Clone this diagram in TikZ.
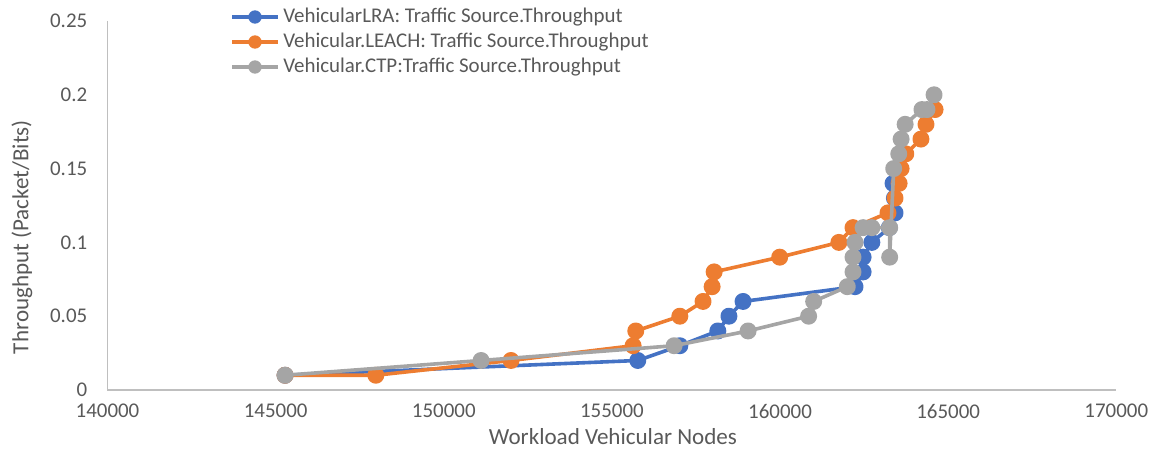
\documentclass[tikz,border=0pt]{standalone}
\usepackage{fontspec}
\setmainfont{Carlito}
\usetikzlibrary{calc}
\definecolor{lra}{HTML}{4472C4}
\definecolor{leach}{HTML}{ED7D31}
\definecolor{ctp}{HTML}{A5A5A5}
\definecolor{txt}{HTML}{595959}
\definecolor{axisline}{HTML}{BFBFBF}
\begin{document}
\begin{tikzpicture}[
  series/.style={line width=2.7pt, line join=round, mark=*, mark size=5pt,
    mark options={line width=0pt}},
  lbl/.style={text=txt, font=\fontsize{15.7}{18}\selectfont, inner sep=0pt},
  ttl/.style={text=txt, font=\fontsize{17.3}{20}\selectfont, inner sep=0pt},
  axisrule/.style={draw=axisline, line width=1pt},
]
\useasboundingbox (0,0) rectangle (863.25pt,337.5pt);

% plotting area: x in thousands above 140000, y in units of 0.01
\begin{scope}[shift={(80.625pt,45pt)}, x=25.22pt, y=11.07pt]
  \coordinate (o) at (0,0);
  \coordinate (ytop) at (0,25);
  \coordinate (xend) at (30,0);
  \draw[axisrule] (ytop) -- (o) -- (xend);

  % y tick labels
  \foreach \v/\t in {0/0, 5/0.05, 10/0.1, 15/0.15, 20/0.2, 25/0.25}
    \node[lbl, anchor=east, xshift=-15pt] (ylab\v) at (0,\v) {\t};
  % x tick labels
  \foreach \v/\t in {0/140000, 5/145000, 10/150000, 15/155000, 20/160000, 25/165000, 30/170000}
    \node[lbl, anchor=north, yshift=-10.5pt] (xlab\v) at (\v,0) {\t};

  % VehicularLRA
  \draw[series, lra, mark options={fill=lra}] plot coordinates {
    (5.28,1) (15.77,2) (17.02,3) (18.15,4) (18.48,5) (18.90,6) (22.23,7)
    (22.47,8) (22.47,9) (22.73,10) (23.25,11) (23.42,12) (23.40,13) (23.36,14)};
  % Vehicular.LEACH
  \draw[series, leach, mark options={fill=leach}] plot coordinates {
    (5.28,1) (7.98,1) (12.0,2) (15.63,3) (15.71,4) (17.02,5) (17.71,6)
    (17.98,7) (18.04,8) (19.99,9) (21.75,10) (22.17,11) (23.21,12) (23.42,13)
    (23.54,14) (23.60,15) (23.74,16) (24.19,17) (24.34,18) (24.61,19)};
  % Vehicular.CTP
  \draw[series, ctp, mark options={fill=ctp}] plot coordinates {
    (5.28,1) (11.11,2) (16.85,3) (19.05,4) (20.85,5) (21.0,6) (22.0,7)
    (22.17,8) (22.17,9) (22.23,10) (22.47,11) (22.73,11) (23.26,11) (23.26,9)
    (23.38,15) (23.53,16) (23.60,17) (23.72,18) (24.22,19) (24.37,19) (24.58,20)};
\end{scope}

% axis titles
\node[ttl] (xtitle) at (459.75pt,10pt) {Workload Vehicular Nodes};
\node[ttl, rotate=90] (ytitle) at (16.5pt,159.75pt) {Throughput (Packet/Bits)};

% legend
\foreach \y/\c/\name/\t in {
    324.75/lra/leglra/{VehicularLRA: Traffic Source.Throughput},
    306/leach/legleach/{Vehicular.LEACH: Traffic Source.Throughput},
    287.25/ctp/legctp/{Vehicular.CTP:Traffic Source.Throughput}} {
  \coordinate (\name a) at (174pt,\y pt);
  \coordinate (\name b) at (208.5pt,\y pt);
  \draw[\c, line width=2.7pt] (\name a) -- (\name b);
  \fill[\c] ($(\name a)!0.5!(\name b)$) circle (5pt);
  \node[lbl, anchor=west] (\name) at (212.25pt,\y pt) {\t};
}
\end{tikzpicture}
\end{document}
